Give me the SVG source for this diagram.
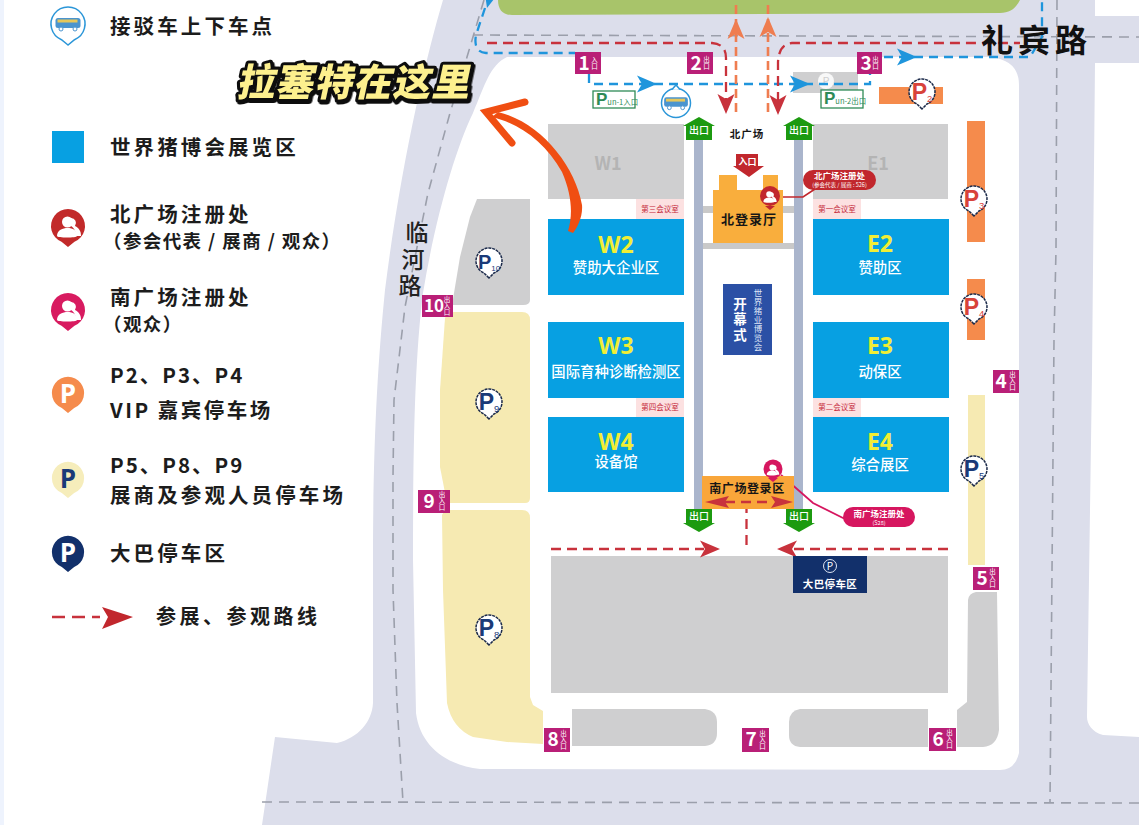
<svg xmlns="http://www.w3.org/2000/svg" xmlns:xlink="http://www.w3.org/1999/xlink" width="1139" height="825" viewBox="0 0 1139 825">
<style>
text{font-family:"Noto Sans CJK SC","Noto Sans",sans-serif;}
.lg{font-size:20.5px;font-weight:700;fill:#1c1c1c;letter-spacing:3.1px;}
.lg2{font-size:18.5px;font-weight:700;fill:#1c1c1c;letter-spacing:1.4px;}
.hall{fill:#07a0e2;}
.hn{font-family:"Open Sans","Noto Sans",sans-serif;font-size:23px;font-weight:700;fill:#f1ee35;text-anchor:middle;}
.hl{font-size:14.4px;font-weight:500;fill:#fff;text-anchor:middle;}
.gz{fill:#cfcfd0;}
.yz{fill:#f6eab2;}
.oz{fill:#f58b4c;}
.mt{fill:#fce1e1;}
.mtt{font-size:7.5px;fill:#c5283a;text-anchor:middle;}
.walk{fill:#aab5cc;}
.band{fill:#c9c9c9;}
.gate{fill:#b91f77;}
.gn{font-size:19px;font-weight:700;fill:#fff;text-anchor:middle;}
.gs{font-size:6.5px;fill:#fff;text-anchor:middle;writing-mode:vertical-rl;}
.ex{fill:#1c9a10;}
.ext{font-size:10px;font-weight:500;fill:#fff;text-anchor:middle;}
.road{fill:none;stroke:#9b9fab;stroke-width:1.6;stroke-dasharray:10 7;}
.blue{fill:none;stroke:#1f95dc;stroke-width:2.3;stroke-dasharray:9 6;}
.red{fill:none;stroke:#c8323c;stroke-width:2.3;stroke-dasharray:10 6;}
.org{fill:none;stroke:#ef7d50;stroke-width:2.6;stroke-dasharray:9 5;}
.pinm{fill:#fff;stroke:#1b2a4a;stroke-width:1.5;stroke-dasharray:3 .8;}
.pp{font-family:"Liberation Sans",sans-serif;font-size:23px;font-weight:700;text-anchor:middle;}
.pp tspan{font-size:9.5px;font-weight:400;}
.nv{fill:#1a3a78;}
.rd{fill:#d8423a;}
.lp{font-family:"Open Sans",sans-serif;font-size:26px;font-weight:700;text-anchor:middle;}
.rt{font-size:32px;font-weight:700;fill:#111;letter-spacing:5px;}
.rv{font-size:23px;font-weight:500;fill:#222;text-anchor:middle;}
.tag{font-size:8.5px;font-weight:700;fill:#fff;text-anchor:middle;}
.tag2{font-size:5.5px;fill:#fff;text-anchor:middle;}
.pk{fill:#fff;stroke:#2e8b57;stroke-width:1.3;}
.pkt{font-size:7.5px;fill:#2e8b57;}
.pkt tspan{font-family:"Liberation Sans",sans-serif;font-size:17px;font-weight:700;}
.dark{font-weight:700;fill:#161616;text-anchor:middle;}
</style>
<defs>
<path id="pinL" d="M0,21 L-6.5,15.7 A17,17 0 1 1 6.5,15.7 Z"/>
<path id="pinM" d="M0,17 L-5,12 A13,13 0 1 1 5,12 Z"/>
<polygon id="hd" points="-20,-8.5 0,0 -20,8.5 -15,0"/>
<g id="ppl">
<path d="M3,-9 A5,5 0 0 1 7,-1 C11,1 13,4 13,9 L8,9 C8,4 6,1 3,-1 Z" fill="#fff"/>
<path d="M-6,-5 A5.4,5.4 0 1 1 5,-5 A5.4,5.4 0 1 1 -6,-5 Z M-11,9 C-11,3 -5,1 -0.5,1 C5,1 9,3 9,9 C9,11 -11,11 -11,9 Z" fill="#fff"/>
</g>
<g id="bus"><rect x="-12.5" y="-6" width="25" height="10" rx="2.5" fill="#4a94cf"/><rect x="-10.5" y="-4.5" width="20" height="3" fill="#e7c75a"/><circle cx="-7" cy="5" r="2" fill="#fff" stroke="#4a94cf"/><circle cx="7" cy="5" r="2" fill="#fff" stroke="#4a94cf"/></g>
<filter id="sh" x="-5%" y="-15%" width="112%" height="135%"><feDropShadow dx="1.5" dy="2" stdDeviation="0.2" flood-color="#111"/></filter>
</defs>

<g id="background">
<rect x="0" y="0" width="1139" height="825" fill="#fff"/>
<rect x="0" y="0" width="4" height="825" fill="#eef3fd"/>
<path id="roads" fill="#dcdeeb" d="M443,0 C425,60 400,170 385,290 C377,370 373,450 373,560 L373,703 C372,722 358,738 337,743 L275,737 L262,825 L1139,825 L1139,737 L1103,735 C1092,732 1087,724 1087,717 L1092,373 L1095,63 L1139,63 L1139,16 L1095,16 L1095,0 Z"/>
<path id="green" fill="#a8c46a" d="M498,0 C498,10 503,15 512,15 L1000,13 C1010,13 1016,8 1020,0 Z"/>
<path id="site" fill="#fff" d="M507,57 L990,57 Q1019,60 1019,85 L1019,753 Q1015,770 1000,770 L480,769 C445,765 420,745 416,713 L413,560 C413,440 415,357 423,293 C435,220 455,150 473,113 C485,85 490,65 507,57 Z"/>
</g>

<g id="road-lines">
<path class="road" d="M484,0 L467,57 L450,113 L428,193 L405,307 L394,400 L393,477 L393,590 L397,703 L403,802"/>
<path class="road" d="M262,802 L1139,803"/>
<path class="road" d="M473,35 L1139,37"/>
<path class="road" d="M1057,0 L1056,250 L1054,340 L1050,803"/>
</g>

<g id="zones">
<rect id="w1" class="gz" x="548" y="124" width="136" height="75"/>
<rect id="e1" class="gz" x="813" y="124" width="135" height="75"/>
<rect id="bus-lot" class="gz" x="551" y="556" width="397" height="137"/>
<path id="p10-zone" class="gz" d="M477,199 L530,199 L530,300 Q530,305 523,305 L452,305 L460,257 L470,217 Z"/>
<path id="south-lot-w" class="gz" d="M572,709 L705,709 Q717,711 717,722 L717,733 Q717,745 705,746 L572,746 Z"/>
<path id="south-lot-e" class="gz" d="M928,709 L800,709 Q789,711 789,722 L789,735 Q789,746 800,747 L928,747 Z"/>
<path id="east-lot" class="gz" d="M957,710 L967,702 L968,600 Q969,593 976,592 L997,592 L999,730 Q997,746 983,747 L957,747 Z"/>
<path id="p9-zone" class="yz" d="M445,318 Q447,312 454,312 L522,312 Q530,312 530,320 L530,498 Q530,503 525,503 L447,503 L440,467 L440,390 Z"/>
<path id="p8-zone" class="yz" d="M442,515 Q444,510 450,510 L522,510 Q530,510 530,518 L530,697 L533,705 L543,711 L543,744 L507,742 L473,737 Q452,728 447,703 L443,590 Z"/>
<rect id="p5-zone" class="yz" x="968" y="395" width="17" height="170"/>
<rect id="p2-zone" class="oz" x="879" y="87" width="64" height="17"/>
<rect id="p3-zone" class="oz" x="967" y="121" width="18" height="121"/>
<rect id="p4-zone" class="oz" x="967" y="279" width="18" height="61"/>
<rect id="pm2-zone" class="gz" x="793" y="72" width="65" height="21"/>
<circle cx="826" cy="81" r="8" fill="#fff" opacity=".85"/>
<text x="826" y="85" font-size="11" fill="#cfcfd0" text-anchor="middle">P</text>
</g>

<g id="walkways">
<rect class="band" x="703" y="206" width="91" height="7"/>
<rect class="band" x="703" y="243" width="91" height="6"/>
<rect class="walk" x="694" y="140" width="9" height="369"/>
<rect class="walk" x="794" y="140" width="9" height="369"/>
</g>

<g id="connectors">
<path class="blue" d="M485,8 L476,35 Q473,52 486,53 L575,53"/>
<path class="blue" d="M589,74 L589,84 L870,84 L870,74"/>
<path class="blue" d="M884,57 L1030,57 L1042,37 L1042,0"/>
<use xlink:href="#hd" href="#hd" fill="#1f95dc" transform="translate(657,84)"/>
<use xlink:href="#hd" href="#hd" fill="#1f95dc" transform="translate(810,84)"/>
<use xlink:href="#hd" href="#hd" fill="#1f95dc" transform="translate(917,57)"/>
<use xlink:href="#hd" href="#hd" fill="#1f95dc" transform="translate(487,8) rotate(105)"/>
<path class="red" d="M487,43 L712,43 Q726,44 726,58 L726,102"/>
<path class="red" d="M778,102 L778,62 Q779,44 792,43 L1020,43"/>
<use xlink:href="#hd" href="#hd" fill="#c8323c" transform="translate(726,114) rotate(90)"/>
<use xlink:href="#hd" href="#hd" fill="#c8323c" transform="translate(778,115) rotate(90)"/>
<path class="org" d="M736,112 L736,0"/>
<path class="org" d="M768,112 L768,4"/>
<use xlink:href="#hd" href="#hd" fill="#ef7d50" transform="translate(736,19) rotate(-90)"/>
<use xlink:href="#hd" href="#hd" fill="#ef7d50" transform="translate(768,17) rotate(-90)"/>
<path class="red" d="M551,549 L704,549"/>
<path class="red" d="M948,549 L794,549"/>
<path class="red" d="M746.5,503 L746.5,546"/>
<use xlink:href="#hd" href="#hd" fill="#c8323c" transform="translate(720,549)"/>
<use xlink:href="#hd" href="#hd" fill="#c8323c" transform="translate(777,549) rotate(180)"/>
<path d="M780,197 L803,197 L815,189" fill="none" stroke="#c1272d" stroke-width="1.6"/>
<path d="M781,475 L813,503 L845,519" fill="none" stroke="#d6165f" stroke-width="1.8"/>
</g>

<g id="hall-w2"><rect class="hall" x="548" y="219" width="136" height="76"/><text class="hn" x="616" y="253">W2</text><text class="hl" x="616" y="273">赞助大企业区</text></g>
<g id="hall-w3"><rect class="hall" x="548" y="322" width="136" height="76"/><text class="hn" x="616" y="354">W3</text><text class="hl" x="616" y="377">国际育种诊断检测区</text></g>
<g id="hall-w4"><rect class="hall" x="548" y="417" width="136" height="75"/><text class="hn" x="616" y="450">W4</text><text class="hl" x="616" y="467">设备馆</text></g>
<g id="hall-e2"><rect class="hall" x="813" y="219" width="136" height="76"/><text class="hn" x="880" y="252">E2</text><text class="hl" x="880" y="273">赞助区</text></g>
<g id="hall-e3"><rect class="hall" x="813" y="322" width="136" height="76"/><text class="hn" x="880" y="354">E3</text><text class="hl" x="880" y="377">动保区</text></g>
<g id="hall-e4"><rect class="hall" x="813" y="417" width="136" height="75"/><text class="hn" x="880" y="450">E4</text><text class="hl" x="880" y="470">综合展区</text></g>
<g id="label-w1"><text x="608" y="170" font-family="Open Sans" font-size="18" font-weight="600" fill="#b4b4b4" text-anchor="middle">W1</text></g>
<g id="label-e1"><text x="878" y="170" font-family="Open Sans" font-size="18" font-weight="600" fill="#b4b4b4" text-anchor="middle">E1</text></g>

<g id="room-3"><rect class="mt" x="636" y="199" width="48" height="20"/><text class="mtt" x="660" y="212">第三会议室</text></g>
<g id="room-4"><rect class="mt" x="636" y="398" width="48" height="19"/><text class="mtt" x="660" y="410">第四会议室</text></g>
<g id="room-1"><rect class="mt" x="813" y="199" width="48" height="20"/><text class="mtt" x="837" y="212">第一会议室</text></g>
<g id="room-2"><rect class="mt" x="813" y="398" width="48" height="19"/><text class="mtt" x="837" y="410">第二会议室</text></g>

<g id="north-hall">
<path fill="#f9ae3d" d="M713,190 L719,190 L719,175 L737,175 L737,190 L763,190 L763,175 L778,175 L778,190 L783,190 L783,243 L713,243 Z"/>
<text class="dark" x="749" y="224" font-size="13" letter-spacing="1">北登录厅</text>
</g>
<g id="north-entry">
<polygon fill="#c1272d" points="736,154 758,154 758,166 764,166 749,177 733,166 736,166"/>
<text x="747.5" y="165" font-size="9" font-weight="700" fill="#fff" text-anchor="middle">入口</text>
</g>
<g id="north-plaza"><text class="dark" x="747" y="138" font-size="10.5" letter-spacing="1">北广场</text></g>
<g id="opening">
<rect x="723" y="284" width="49" height="71" fill="#2b50a5"/>
<text x="740" y="320" font-size="13.5" font-weight="700" fill="#fff" text-anchor="middle" style="writing-mode:vertical-rl;letter-spacing:2px">开幕式</text>
<text x="758" y="320" font-size="8.5" fill="#dfe6f7" text-anchor="middle" style="writing-mode:vertical-rl;letter-spacing:.6px">世界猪业博览会</text>
</g>
<g id="south-hall">
<rect x="702" y="476" width="92" height="33" fill="#f9a63a"/>
<text class="dark" x="747" y="493" font-size="12" letter-spacing=".6">南广场登录区</text>
<path class="red" d="M725,502 L768,502"/>
<polygon fill="#c8323c" points="705,502 729,496 725,502 729,508"/>
<polygon fill="#c8323c" points="793,502 771,496 775,502 771,508"/>
</g>

<g id="exit-nw"><polygon class="ex" points="699,117 715,126 712,126 712,140 686,140 686,126 683,126"/><text class="ext" x="699" y="134">出口</text></g>
<g id="exit-ne"><polygon class="ex" points="799,117 815,126 812,126 812,140 786,140 786,126 783,126"/><text class="ext" x="799" y="134">出口</text></g>
<g id="exit-sw"><polygon class="ex" points="686,509 712,509 712,523 715,523 699,532 683,523 686,523"/><text class="ext" x="699" y="520">出口</text></g>
<g id="exit-se"><polygon class="ex" points="786,509 812,509 812,523 815,523 799,532 783,523 786,523"/><text class="ext" x="799" y="520">出口</text></g>

<g id="reg-north">
<circle cx="770" cy="196" r="10" fill="#c1272d"/><path d="M765,206 L775,206 L770,210 Z" fill="#c1272d"/>
<use xlink:href="#ppl" href="#ppl" transform="translate(769.5,197) scale(.55)"/>
<rect x="803" y="170" width="73" height="20" rx="10" fill="#c1272d"/>
<text class="tag" x="839.5" y="179">北广场注册处</text>
<text class="tag2" x="839.5" y="187">(参会代表 / 展商 : 526)</text>
</g>
<g id="reg-south">
<circle cx="773" cy="469" r="9.5" fill="#d6165f"/><path d="M768,478 L778,478 L773,482 Z" fill="#d6165f"/>
<use xlink:href="#ppl" href="#ppl" transform="translate(772.5,470) scale(.52)"/>
<rect x="843" y="507" width="72" height="20" rx="10" fill="#d6165f"/>
<text class="tag" x="879" y="516.5">南广场注册处</text>
<text class="tag2" x="879" y="524.5">(S28)</text>
</g>
<g id="bus-parking">
<rect x="793" y="556" width="74" height="37" fill="#12306b"/>
<circle cx="830" cy="566" r="6.5" fill="none" stroke="#dfe6f3" stroke-width="1"/>
<text x="830" y="570" font-size="10" fill="#fff" text-anchor="middle">P</text>
<text x="830" y="588" font-size="10.5" font-weight="700" fill="#fff" text-anchor="middle" letter-spacing=".4">大巴停车区</text>
</g>

<g id="gate-1"><rect class="gate" x="575" y="52" width="26" height="22"/><text class="gn" x="584" y="70">1</text><text class="gs" x="594.5" y="63">入口</text></g>
<g id="gate-2"><rect class="gate" x="687" y="52" width="26" height="22"/><text class="gn" x="696" y="70">2</text><text class="gs" x="706.5" y="63">出口</text></g>
<g id="gate-3"><rect class="gate" x="857" y="52" width="25" height="22"/><text class="gn" x="866" y="70">3</text><text class="gs" x="875.5" y="63">出口</text></g>
<g id="gate-4"><rect class="gate" x="993" y="370" width="26" height="23"/><text class="gn" x="1001" y="388">4</text><text class="gs" x="1012.5" y="381">出入口</text></g>
<g id="gate-5"><rect class="gate" x="973" y="567" width="26" height="23"/><text class="gn" x="982" y="585">5</text><text class="gs" x="992.5" y="578">出入口</text></g>
<g id="gate-6"><rect class="gate" x="929" y="728" width="27" height="23"/><text class="gn" x="938" y="746">6</text><text class="gs" x="949.5" y="739">出入口</text></g>
<g id="gate-7"><rect class="gate" x="742" y="728" width="27" height="24"/><text class="gn" x="751" y="746">7</text><text class="gs" x="762.5" y="740">出入口</text></g>
<g id="gate-8"><rect class="gate" x="544" y="728" width="26" height="24"/><text class="gn" x="553" y="746">8</text><text class="gs" x="563.5" y="740">出入口</text></g>
<g id="gate-9"><rect class="gate" x="418" y="490" width="32" height="23"/><text class="gn" x="429" y="508">9</text><text class="gs" x="442" y="501">出入口</text></g>
<g id="gate-10"><rect class="gate" x="422" y="295" width="31" height="22"/><text class="gn" x="434" y="312" style="font-size:17px">10</text><text class="gs" x="447" y="306">出入口</text></g>

<g id="pm1"><rect class="pk" x="593" y="91" width="42" height="17"/><text class="pkt" x="596" y="105"><tspan>P</tspan>un-1入口</text></g>
<g id="pm2"><rect class="pk" x="821" y="90" width="42" height="18"/><text class="pkt" x="824" y="104"><tspan>P</tspan>un-2出口</text></g>
<g id="shuttle-stop">
<circle cx="676" cy="103" r="14.5" fill="#fff" stroke="#2b96d8" stroke-width="1.5"/>
<path d="M672,89.5 L676,85 L680,89.5" fill="#fff" stroke="#2b96d8" stroke-width="1.5"/>
<use xlink:href="#bus" href="#bus" transform="translate(676,103) scale(.95)"/>
</g>

<g id="p2"><use xlink:href="#pinM" href="#pinM" class="pinm" transform="translate(922,92)"/><text class="pp rd" x="922" y="100">P<tspan dy="2">2</tspan></text></g>
<g id="p3"><use xlink:href="#pinM" href="#pinM" class="pinm" transform="translate(974,199)"/><text class="pp rd" x="974" y="207">P<tspan dy="2">3</tspan></text></g>
<g id="p4"><use xlink:href="#pinM" href="#pinM" class="pinm" transform="translate(974,307)"/><text class="pp rd" x="974" y="315">P<tspan dy="2">4</tspan></text></g>
<g id="p5"><use xlink:href="#pinM" href="#pinM" class="pinm" transform="translate(974,469)"/><text class="pp nv" x="974" y="477">P<tspan dy="2">5</tspan></text></g>
<g id="p8"><use xlink:href="#pinM" href="#pinM" class="pinm" transform="translate(489,628)"/><text class="pp nv" x="489" y="636">P<tspan dy="2">8</tspan></text></g>
<g id="p9"><use xlink:href="#pinM" href="#pinM" class="pinm" transform="translate(489,402)"/><text class="pp nv" x="489" y="410">P<tspan dy="2">9</tspan></text></g>
<g id="p10"><use xlink:href="#pinM" href="#pinM" class="pinm" transform="translate(489,261)"/><text class="pp nv" x="489" y="269" style="font-size:20px">P<tspan dy="2" style="font-size:8px">10</tspan></text></g>

<g id="road-names">
<text class="rt" x="981" y="52">礼宾路</text>
<text class="rv" x="417" y="241">临</text>
<text class="rv" x="413" y="268">河</text>
<text class="rv" x="410" y="294">路</text>
</g>

<g id="callout-arrow">
<path fill="#f04e12" d="M498,112 C540,122 575,165 582,205 C583,217 577,228 573,233 L568,231 C573,215 572,195 562,172 C545,142 520,124 492,117 Z"/>
<path d="M525,102 L486,112 L512,143" fill="none" stroke="#f04e12" stroke-width="7" stroke-linecap="round" stroke-linejoin="miter"/>
</g>
<g id="callout-title" filter="url(#sh)">
<text transform="translate(236,96) skewX(-12)" font-size="38" font-weight="900" fill="#fdf08e" stroke="#111" stroke-width="6" stroke-linejoin="round" paint-order="stroke" letter-spacing="1">拉塞特在这里</text>
</g>

<g id="legend">
<g id="lg-shuttle">
<use xlink:href="#pinL" href="#pinL" fill="#fff" stroke="#2b96d8" stroke-width="1.5" transform="translate(68,24)"/>
<use xlink:href="#bus" href="#bus" transform="translate(68,24)"/>
<text class="lg" x="110" y="34">接驳车上下车点</text>
</g>
<g id="lg-hall"><rect x="52" y="131" width="32" height="32" fill="#07a0e2"/><text class="lg" x="110" y="155">世界猪博会展览区</text></g>
<g id="lg-north">
<use xlink:href="#pinL" href="#pinL" fill="#c22a2a" transform="translate(68,226)"/>
<use xlink:href="#ppl" href="#ppl" transform="translate(68,227)"/>
<text class="lg" x="110" y="222">北广场注册处</text>
<text class="lg2" x="103" y="248">（参会代表 / 展商 / 观众）</text>
</g>
<g id="lg-south">
<use xlink:href="#pinL" href="#pinL" fill="#d81b60" transform="translate(68,310)"/>
<use xlink:href="#ppl" href="#ppl" transform="translate(68,311)"/>
<text class="lg" x="110" y="305">南广场注册处</text>
<text class="lg2" x="103" y="331">（观众）</text>
</g>
<g id="lg-vip">
<use xlink:href="#pinL" href="#pinL" fill="#f58b4c" transform="translate(68,393) scale(.95)"/>
<text class="lp" x="68" y="403" fill="#fff">P</text>
<text class="lg" x="110" y="383" style="letter-spacing:2px">P2、P3、P4</text>
<text class="lg" x="110" y="418" style="letter-spacing:2.5px">VIP 嘉宾停车场</text>
</g>
<g id="lg-visitor">
<use xlink:href="#pinL" href="#pinL" fill="#f6edbb" transform="translate(68,478) scale(.95)"/>
<text class="lp" x="68" y="488" fill="#1a3a78">P</text>
<text class="lg" x="110" y="473" style="letter-spacing:2px">P5、P8、P9</text>
<text class="lg" x="110" y="503">展商及参观人员停车场</text>
</g>
<g id="lg-bus">
<use xlink:href="#pinL" href="#pinL" fill="#12306b" transform="translate(68,552) scale(.95)"/>
<text class="lp" x="68" y="562" fill="#fff">P</text>
<text class="lg" x="110" y="561">大巴停车区</text>
</g>
<g id="lg-route">
<path d="M52,617 L100,617" fill="none" stroke="#c8323c" stroke-width="2.6" stroke-dasharray="13 7"/>
<polygon fill="#c1272d" points="102,607 133,617 102,629 108,617"/>
<text class="lg" x="156" y="624" style="font-size:20px;letter-spacing:3.5px">参展、参观路线</text>
</g>
</g>
</svg>
